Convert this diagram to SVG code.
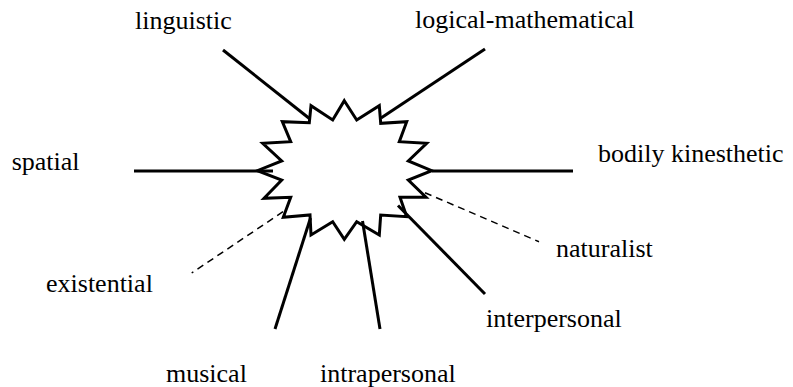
<svg xmlns="http://www.w3.org/2000/svg" width="793" height="387" viewBox="0 0 793 387">
<style>
.lbl{font-family:"Liberation Serif","Times New Roman",serif;font-size:26px;fill:#000}
.solid{stroke:#000;stroke-width:3;fill:none;stroke-linecap:butt}
.dash{stroke:#000;stroke-width:1.5;fill:none;stroke-dasharray:7,5}
</style>
<rect width="793" height="387" fill="#fff"/>
<g id="center">
<polygon points="344.3,100.7 356.7,120 379.3,105.7 380.7,123.3 406.7,121.7 399.3,141.7 426.7,143.3 408.3,161 431.7,170.7 408.3,180 426,197.3 400,197.3 406.7,216.7 380.7,215 379.3,235 356.7,221.7 344.3,239.3 332.7,221.7 311,235 310,215 283.3,217.3 290.7,197.3 264,198.3 281.7,180 257.3,170.7 281.7,161 262.7,143.3 290.7,141.7 282.3,121.7 309.3,122.7 311,105.7 332.7,120" fill="#fff" stroke="#000" stroke-width="3" stroke-linejoin="miter"/>
</g>
<g id="connectors">
<line class="solid" x1="223" y1="50" x2="310" y2="119"/>
<line class="solid" x1="485" y1="49" x2="381" y2="118"/>
<line class="solid" x1="134" y1="171" x2="273" y2="171"/>
<line class="solid" x1="432" y1="171" x2="573" y2="171"/>
<line class="dash" x1="425" y1="192.7" x2="539" y2="241.7"/>
<line class="solid" x1="398" y1="205.5" x2="485" y2="294"/>
<line class="solid" x1="362.5" y1="221" x2="380" y2="329"/>
<line class="solid" x1="310.5" y1="218" x2="275" y2="329"/>
<line class="dash" x1="283" y1="211.7" x2="191.7" y2="273"/>
</g>
<g id="linguistic"><text class="lbl" x="135" y="29">linguistic</text></g>
<g id="logical-mathematical"><text class="lbl" x="415" y="28.3">logical-mathematical</text></g>
<g id="spatial"><text class="lbl" x="11.7" y="170">spatial</text></g>
<g id="bodily-kinesthetic"><text class="lbl" x="598" y="161.7">bodily kinesthetic</text></g>
<g id="naturalist"><text class="lbl" x="556" y="256.7">naturalist</text></g>
<g id="interpersonal"><text class="lbl" x="486" y="326.7">interpersonal</text></g>
<g id="existential"><text class="lbl" x="46" y="291.7">existential</text></g>
<g id="musical"><text class="lbl" x="166" y="381.7">musical</text></g>
<g id="intrapersonal"><text class="lbl" x="320" y="381.7">intrapersonal</text></g>
</svg>
